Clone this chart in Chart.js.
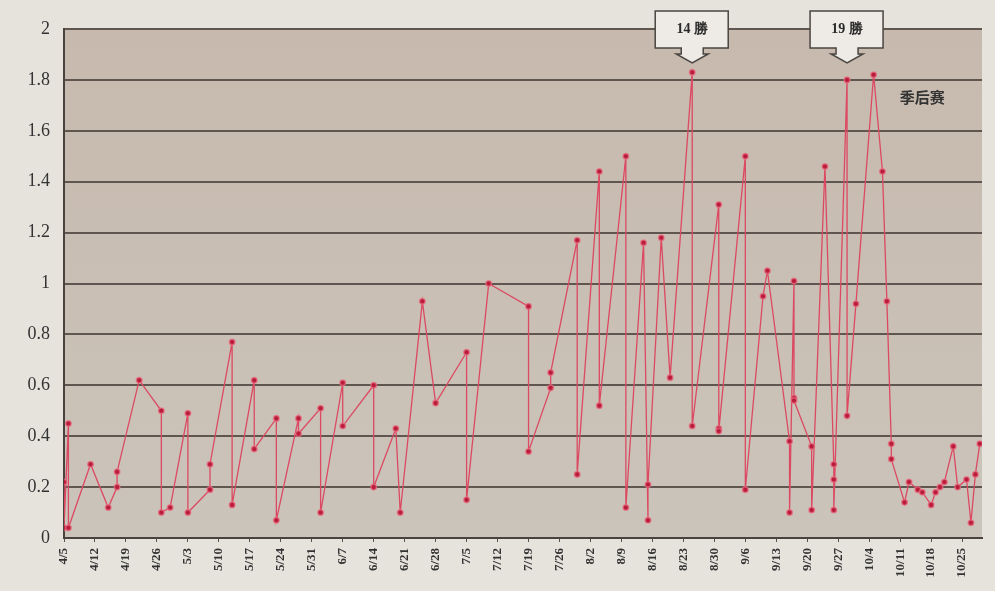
<!DOCTYPE html>
<html>
<head>
<meta charset="utf-8">
<script src="https://cdn.jsdelivr.net/npm/chart.js@4/dist/chart.umd.min.js"></script>
<style>
    body { margin: 0; background: #e6e3dd; }
    #wrap { width: 995px; height: 591px; }
</style>
</head>
<body>
<div id="wrap"><canvas id="chart"></canvas></div>
<script>
// days counted from 4/5
const gameDays = [
    0, 0, 1, 1, 6, 10, 12, 12, 17, 22, 22, 24, 28, 28, 33, 33, 38, 38, 43, 43,
    48, 48, 53, 53, 58, 58, 63, 63, 70, 70, 75, 76, 81, 84, 91, 91, 96, 105, 105, 110,
    110, 116, 116, 121, 121, 127, 127, 131, 132, 132, 135, 137, 142, 142, 148, 148, 148, 154, 154, 158,
    159, 164, 164, 165, 165, 165, 169, 169, 172, 174, 174, 174, 177, 177, 179, 183, 185, 186, 187, 187,
    190, 191, 193, 194, 196, 197, 198, 199, 201, 202, 204, 205, 206, 207
];
const ratios = [
    0.22, 0.04, 0.45, 0.04, 0.29, 0.12, 0.20, 0.26, 0.62, 0.50, 0.10, 0.12, 0.49, 0.10, 0.19, 0.29, 0.77, 0.13, 0.62, 0.35,
    0.47, 0.07, 0.47, 0.41, 0.51, 0.10, 0.61, 0.44, 0.60, 0.20, 0.43, 0.10, 0.93, 0.53, 0.73, 0.15, 1.00, 0.91, 0.34, 0.59,
    0.65, 1.17, 0.25, 1.44, 0.52, 1.50, 0.12, 1.16, 0.07, 0.21, 1.18, 0.63, 1.83, 0.44, 1.31, 0.43, 0.42, 1.50, 0.19, 0.95,
    1.05, 0.38, 0.10, 1.01, 0.55, 0.54, 0.36, 0.11, 1.46, 0.29, 0.23, 0.11, 1.80, 0.48, 0.92, 1.82, 1.44, 0.93, 0.37, 0.31,
    0.14, 0.22, 0.19, 0.18, 0.13, 0.18, 0.20, 0.22, 0.36, 0.20, 0.23, 0.06, 0.25, 0.37
];
const tickLabels = [
    "4/5", "4/12", "4/19", "4/26", "5/3", "5/10", "5/17", "5/24", "5/31", "6/7",
    "6/14", "6/21", "6/28", "7/5", "7/12", "7/19", "7/26", "8/2", "8/9", "8/16",
    "8/23", "8/30", "9/6", "9/13", "9/20", "9/27", "10/4", "10/11", "10/18", "10/25"
];
const callouts = [
    { day: 142, text: "14 勝" },
    { day: 177, text: "19 勝" }
];
const noteText = "季后赛";
const noteAt = { day: 194, value: 1.73 };

const points = gameDays.map((d, i) => ({ x: d, y: ratios[i] }));

const serif = "'Liberation Serif', 'DejaVu Serif', serif";

const plotBg = {
    id: "plotBg",
    beforeDraw(chart) {
        const { ctx, chartArea: a } = chart;
        const g = ctx.createLinearGradient(0, a.top, 0, a.bottom);
        g.addColorStop(0, "#c7b9ae");
        g.addColorStop(1, "#cbc4ba");
        ctx.save();
        ctx.fillStyle = g;
        ctx.fillRect(a.left, a.top, a.right - a.left, a.bottom - a.top);
        ctx.restore();
    }
};

const notes = {
    id: "notes",
    afterDatasetsDraw(chart) {
        const { ctx, scales, chartArea } = chart;
        ctx.save();
        for (const c of callouts) {
            const cx = scales.x.getPixelForValue(c.day);
            const top = chartArea.top - 18;
            const bot = top + 37, tip = top + 52;
            ctx.beginPath();
            ctx.moveTo(cx - 37, top);
            ctx.lineTo(cx + 36, top);
            ctx.lineTo(cx + 36, bot);
            ctx.lineTo(cx + 11, bot);
            ctx.lineTo(cx + 11, tip - 9);
            ctx.lineTo(cx + 16, tip - 9);
            ctx.lineTo(cx, tip);
            ctx.lineTo(cx - 16, tip - 9);
            ctx.lineTo(cx - 11, tip - 9);
            ctx.lineTo(cx - 11, bot);
            ctx.lineTo(cx - 37, bot);
            ctx.closePath();
            ctx.fillStyle = "#eeebe6";
            ctx.fill();
            ctx.lineWidth = 1.5;
            ctx.strokeStyle = "#4a4540";
            ctx.stroke();
            ctx.fillStyle = "#2a2a2a";
            ctx.font = "bold 14px " + serif;
            ctx.textAlign = "center";
            ctx.textBaseline = "middle";
            ctx.fillText(c.text, cx, (top + bot) / 2);
        }
        ctx.font = "bold 15px 'Noto Sans CJK SC', sans-serif";
        ctx.fillStyle = "#333";
        ctx.textAlign = "center";
        ctx.textBaseline = "middle";
        ctx.fillText(noteText, scales.x.getPixelForValue(noteAt.day), scales.y.getPixelForValue(noteAt.value));
        ctx.restore();
    }
};

new Chart(document.getElementById("chart"), {
    type: "line",
    data: {
        datasets: [{
            data: points,
            borderColor: "#dc4962",
            borderWidth: 1.3,
            pointRadius: 2.8,
            pointBackgroundColor: "#b81d3b",
            pointBorderColor: "rgba(235,110,130,0.7)",
            pointBorderWidth: 1.5,
            tension: 0
        }]
    },
    options: {
        responsive: true,
        maintainAspectRatio: false,
        animation: false,
        layout: { padding: { top: 29, right: 13, left: 0, bottom: 0 } },
        plugins: { legend: { display: false }, tooltip: { enabled: false } },
        scales: {
            x: {
                type: "linear",
                min: 0,
                max: 207.5,
                afterBuildTicks: scale => {
                    scale.ticks = tickLabels.map((t, i) => ({ value: i * 7 }));
                },
                afterFit: scale => { scale.height = 53; },
                ticks: {
                    autoSkip: false,
                    maxRotation: 90,
                    minRotation: 90,
                    padding: 6,
                    color: "#333",
                    font: { family: serif, size: 13, weight: "bold" },
                    callback: v => tickLabels[v / 7]
                },
                grid: { drawOnChartArea: false, tickLength: 4, color: "#5a524b" },
                border: { color: "#4a423c", width: 2 }
            },
            y: {
                min: 0,
                max: 2,
                afterFit: scale => { scale.width = 64; },
                ticks: {
                    stepSize: 0.2,
                    padding: 14,
                    color: "#333",
                    font: { family: serif, size: 18 },
                    callback: v => String(+v.toFixed(1))
                },
                grid: { color: "#5f5650", lineWidth: 2, drawTicks: false },
                border: { color: "#4a423c", width: 2 }
            }
        }
    },
    plugins: [plotBg, notes]
});
</script>
</body>
</html>
